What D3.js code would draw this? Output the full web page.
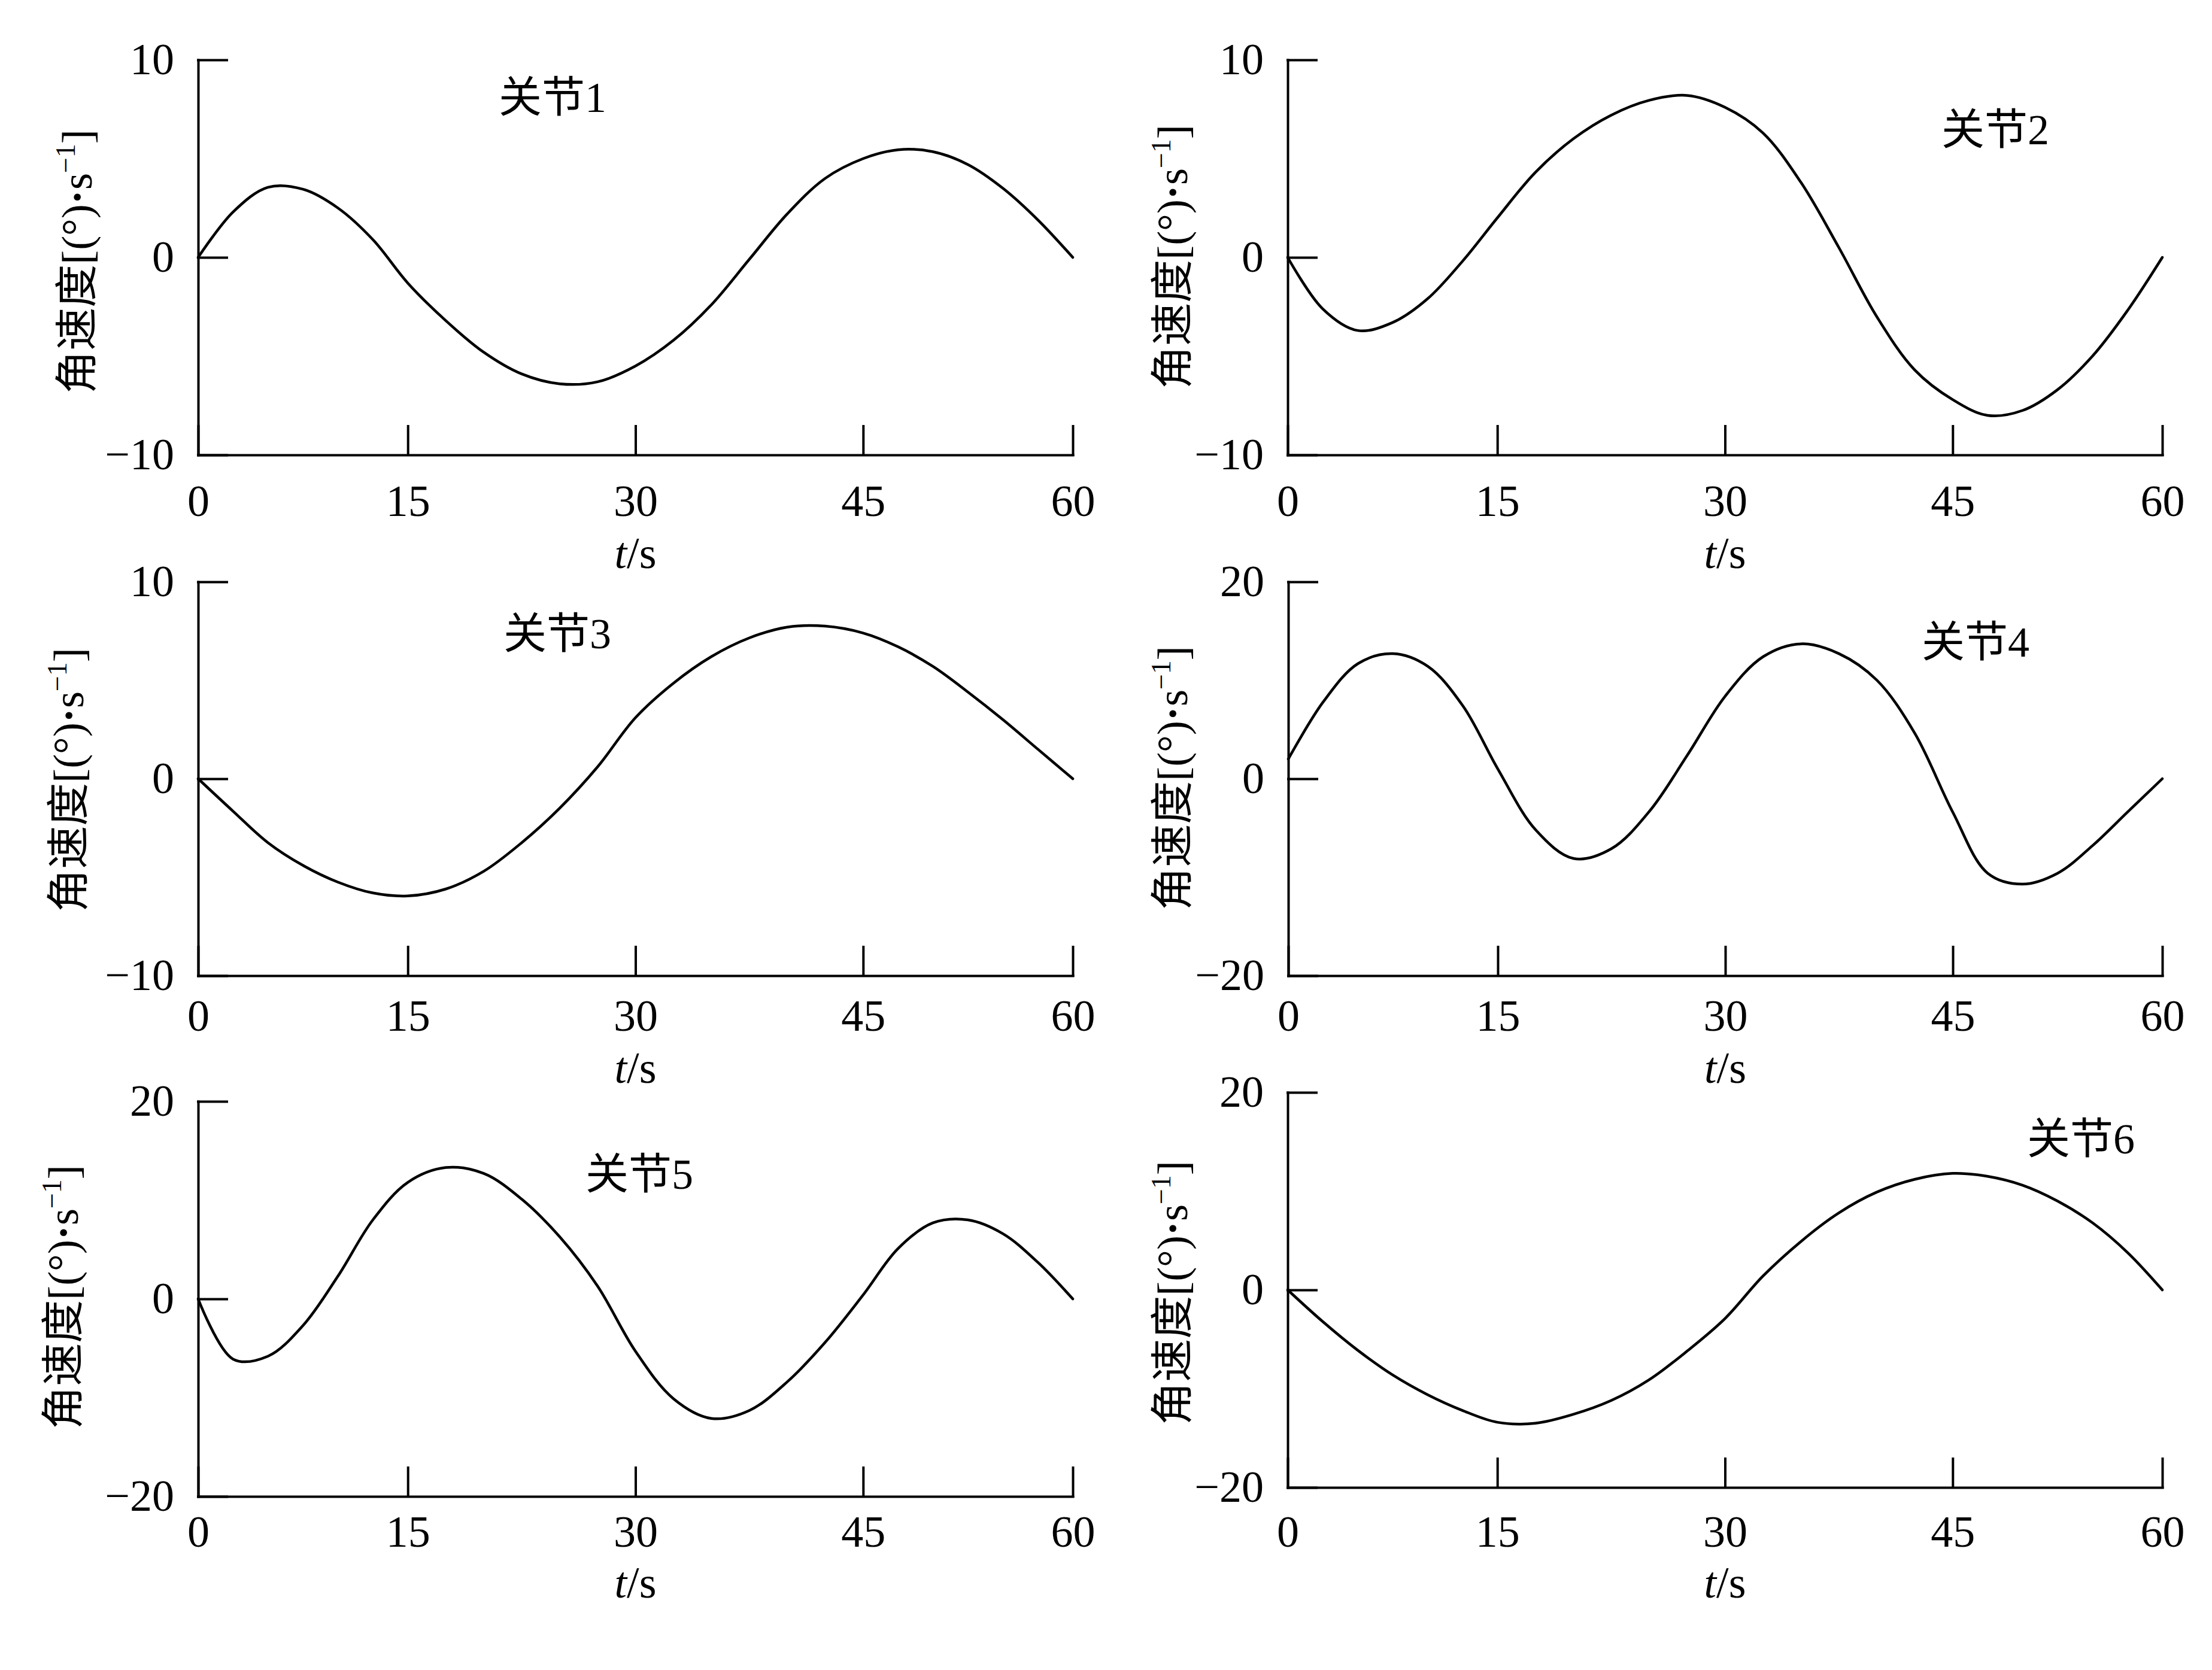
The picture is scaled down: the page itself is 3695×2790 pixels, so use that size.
<!DOCTYPE html>
<html><head><meta charset="utf-8">
<script src="https://cdn.jsdelivr.net/npm/d3@7"></script>
<style>html,body{margin:0;padding:0;background:#fff}</style>
</head><body>
<svg id="c" width="3695" height="2790" xmlns="http://www.w3.org/2000/svg"></svg>
<script>
// ---------------- DATA ----------------
const times = [0,2.5,5,7.5,10,12.5,15,17.5,20,22.5,25,27.5,30,32.5,35,37.5,40,42.5,45,47.5,50,52.5,55,57.5,60];
const joint1 = [0,2.3,3.55,3.45,2.5,0.9,-1.3,-3.2,-4.8,-5.9,-6.4,-6.3,-5.5,-4.2,-2.4,-0.1,2.2,4.0,5.0,5.45,5.35,4.7,3.5,1.9,0];
const joint2 = [0,-2.6,-3.7,-3.3,-2.1,-0.2,2.0,4.3,6.0,7.2,7.95,8.2,7.6,6.3,3.8,0.5,-3.0,-5.7,-7.2,-8.0,-7.75,-6.7,-5.0,-2.7,0];
const joint3 = [0,-1.65,-3.25,-4.4,-5.25,-5.8,-5.95,-5.6,-4.7,-3.25,-1.5,0.6,3.1,4.85,6.2,7.15,7.7,7.75,7.4,6.7,5.7,4.4,3.0,1.5,0];
const joint4 = [2.0,7.8,11.7,12.7,11.4,7.4,1.0,-5.2,-8.1,-7.1,-3.3,2.4,8.4,12.4,13.7,12.7,10.0,4.6,-3.4,-9.6,-10.7,-9.6,-6.8,-3.4,0];
const joint5 = [0,-6.1,-5.8,-2.7,2.3,8.0,11.8,13.3,12.7,10.1,6.3,1.3,-5.3,-10.1,-12.1,-11.3,-8.4,-4.4,0.4,5.1,7.7,8.0,6.6,3.7,0];
const joint6 = [0,-3.2,-6.1,-8.6,-10.6,-12.2,-13.4,-13.5,-12.6,-11.2,-9.1,-6.2,-2.9,1.4,4.9,7.8,9.9,11.2,11.8,11.5,10.6,9.0,6.8,3.8,0];
const seriesList = [joint1, joint2, joint3, joint4, joint5, joint6];
const panelNames = ["关节", "关节", "关节", "关节", "关节", "关节"];
const panelNumbers = ["1", "2", "3", "4", "5", "6"];
const yDomains = [[-10,10],[-10,10],[-10,10],[-20,20],[-20,20],[-20,20]];
const yTickValuesList = [[-10,0,10],[-10,0,10],[-10,0,10],[-20,0,20],[-20,0,20],[-20,0,20]];
const xTickValues = [0,15,30,45,60];
const xLabelItalic = "t";
const xLabelRest = "/s";
const yLabelCJK = "角速度";
const yLabelUnitA = "[(°)";
const yLabelDot = "·";
const yLabelUnitB = "s";
const yLabelSup = "−1";
const yLabelEnd = "]";

// ---------------- LAYOUT ----------------
const xRangeFrac = [0, 0.2397, 0.5, 0.7603, 1];
const layout = [
  {x0:331,  x1:1792, yTop:100,  yBot:760,  tickBase:862,  tBase:949,  yTitleX:153,  yTitleCY:437,  titleX:833,  titleY:187},
  {x0:2151, x1:3612, yTop:100,  yBot:760,  tickBase:862,  tBase:949,  yTitleX:1983, yTitleCY:429,  titleX:3243, titleY:241},
  {x0:331,  x1:1792, yTop:972,  yBot:1630, tickBase:1722, tBase:1809, yTitleX:139,  yTitleCY:1303, titleX:841,  titleY:1083},
  {x0:2152, x1:3612, yTop:972,  yBot:1630, tickBase:1722, tBase:1809, yTitleX:1983, yTitleCY:1300, titleX:3210, titleY:1097},
  {x0:331,  x1:1792, yTop:1840, yBot:2500, tickBase:2584, tBase:2669, yTitleX:130,  yTitleCY:2167, titleX:978,  titleY:1986},
  {x0:2151, x1:3612, yTop:1825, yBot:2485, tickBase:2584, tBase:2669, yTitleX:1983, yTitleCY:2160, titleX:3386, titleY:1927}
];
const SERIF = "'Liberation Serif','Times New Roman',serif";
const CJK = "'Noto Sans CJK SC','Noto Sans CJK JP',sans-serif";
const FS = 74;
const AXW = 4;
const LINEW = 4.5;
const TICK = 48;

const svg = d3.select("#c");
svg.append("rect").attr("width",3695).attr("height",2790).attr("fill","#fff");

layout.forEach((L, i) => {
  const x = d3.scaleLinear().domain(xTickValues).range(xRangeFrac.map(f => L.x0 + f*(L.x1-L.x0)));
  const y = d3.scaleLinear().domain(yDomains[i]).range([L.yBot, L.yTop]);
  const g = svg.append("g");

  // x axis
  const gx = g.append("g").attr("transform", `translate(0,${L.yBot})`)
    .call(d3.axisBottom(x).tickValues(xTickValues).tickSize(-TICK).tickSizeOuter(0).tickFormat(d3.format("d")));
  gx.attr("font-family", SERIF).attr("font-size", FS);
  gx.selectAll("text").attr("y", L.tickBase - L.yBot).attr("dy", "0").attr("fill","#000");

  // y axis
  const gy = g.append("g").attr("transform", `translate(${L.x0},0)`)
    .call(d3.axisLeft(y).tickValues(yTickValuesList[i]).tickSize(-TICK).tickSizeOuter(0).tickPadding(40).tickFormat(d3.format("d")));
  gy.attr("font-family", SERIF).attr("font-size", FS);
  gy.selectAll("text").attr("fill","#000");

  [gx, gy].forEach(a => {
    a.selectAll("path.domain").attr("stroke","#000").attr("stroke-width",AXW).attr("stroke-linecap","square");
    a.selectAll(".tick line").attr("stroke","#000").attr("stroke-width",AXW).attr("stroke-linecap","square");
  });

  // curve
  const pts = times.map((t, k) => ({t, v: seriesList[i][k]}));
  const line = d3.line().x(d => x(d.t)).y(d => y(d.v)).curve(d3.curveCatmullRom.alpha(0.5));
  g.append("path").datum(pts).attr("d", line).attr("fill","none").attr("stroke","#000")
    .attr("stroke-width", LINEW).attr("stroke-linejoin","round").attr("stroke-linecap","round");

  // x label
  const xl = g.append("text").attr("x", x(30)).attr("y", L.tBase).attr("text-anchor","middle")
    .attr("font-family", SERIF).attr("font-size", FS).attr("fill","#000");
  xl.append("tspan").attr("font-style","italic").text(xLabelItalic);
  xl.append("tspan").text(xLabelRest);

  // y label
  const yl = g.append("text").attr("transform", `translate(${L.yTitleX},${L.yTitleCY}) rotate(-90)`)
    .attr("text-anchor","middle").attr("font-family", SERIF).attr("font-size", 72).attr("fill","#000");
  yl.append("tspan").attr("font-family", CJK).text(yLabelCJK);
  yl.append("tspan").text(yLabelUnitA);
  yl.append("tspan").attr("font-weight","bold").text(yLabelDot);
  yl.append("tspan").text(yLabelUnitB);
  yl.append("tspan").attr("dy", -28).attr("font-size", 46).text(yLabelSup);
  yl.append("tspan").attr("dy", 28).text(yLabelEnd);

  // panel title
  const tt = g.append("text").attr("x", L.titleX).attr("y", L.titleY)
    .attr("font-size", 72).attr("fill","#000");
  tt.append("tspan").attr("font-family", CJK).text(panelNames[i]);
  tt.append("tspan").attr("font-family", SERIF).text(panelNumbers[i]);
});
</script>
</body></html>
